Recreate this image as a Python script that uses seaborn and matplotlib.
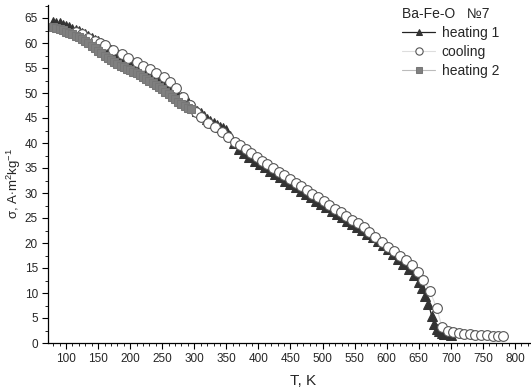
import matplotlib
matplotlib.use("Agg")
import matplotlib.pyplot as plt
from matplotlib.ticker import MultipleLocator
import seaborn as sns

# heating 1 (triangles)
T_heat1 = [80, 85, 90, 95, 100, 105, 110, 115, 120, 125, 130, 135, 140, 145, 150, 155, 160, 165, 170, 175,
           180, 185, 190, 195, 200, 205, 210, 215, 220, 225, 230, 235, 240, 245, 250, 255, 260, 265, 270, 275,
           280, 285, 290, 295, 300, 305, 310, 315, 320, 325, 330, 335, 340, 345, 350,
           355, 362, 370, 378, 386, 394, 402, 410, 418, 426, 434, 442, 450, 458, 466, 474, 482, 490, 498,
           506, 514, 522, 530, 538, 546, 554, 562, 570, 578, 586, 594, 602, 610, 618, 626, 634, 642, 650,
           655, 660, 665, 670, 674, 678, 682, 686, 690, 695, 700]
sig_heat1 = [64.2, 64.1, 64.0, 63.7, 63.4, 63.2, 62.9, 62.7, 62.4, 62.1, 61.8, 61.4, 61.0, 60.7, 60.4, 60.0,
             59.6, 59.1, 58.7, 58.2, 57.8, 57.4, 57.0, 56.6, 56.3, 55.9, 55.6, 55.2, 54.9, 54.5, 54.1, 53.7,
             53.3, 52.9, 52.5, 52.0, 51.6, 51.0, 50.5, 49.9, 49.3, 48.8, 48.2, 47.7, 47.1, 46.5, 46.0, 45.4,
             44.9, 44.4, 44.0, 43.6, 43.3, 43.0, 42.6,
             41.5, 40.0, 38.8, 38.0, 37.2, 36.5, 35.8, 35.2, 34.5, 33.9, 33.2, 32.5, 31.8, 31.2, 30.5, 29.8,
             29.2, 28.5, 27.8, 27.2, 26.5, 25.8, 25.2, 24.5, 23.9, 23.2, 22.6, 21.9, 21.2, 20.4, 19.6, 18.8,
             17.9, 16.9, 15.9, 14.8, 13.7, 12.3,
             11.0, 9.4, 7.9, 5.5, 3.9, 2.9, 2.4, 2.1, 1.9, 1.8, 1.7]

# cooling (open circles)
T_cool = [115, 125, 135, 145, 153, 161, 174, 187, 197, 210, 220, 231, 241, 252, 262, 272, 283, 293, 302,
          311, 322, 332, 343, 353, 363, 371, 380, 388, 397, 406, 414, 423, 432, 440, 449, 458, 467, 475,
          484, 493, 502, 510, 519, 528, 537, 546, 555, 564, 573, 582, 592, 602, 611, 621, 630, 639, 649,
          657, 667, 678, 686, 696, 704, 713, 721, 730, 738, 747, 756, 765, 774, 782]
sig_cool = [62.3, 61.8, 61.1, 60.5, 60.1, 59.7, 58.7, 57.9, 57.1, 56.3, 55.4, 54.8, 54.1, 53.2, 52.3, 51.0,
            49.3, 47.6, 46.3, 45.2, 44.0, 43.2, 42.3, 41.3, 40.3, 39.6, 38.8, 38.1, 37.3, 36.5, 35.8, 35.1,
            34.3, 33.6, 32.9, 32.1, 31.4, 30.7, 29.9, 29.2, 28.4, 27.7, 26.9, 26.2, 25.4, 24.7, 24.0, 23.3,
            22.3, 21.2, 20.3, 19.3, 18.5, 17.5, 16.7, 15.7, 14.3, 12.7, 10.5, 7.0, 3.3, 2.4, 2.2, 2.0, 1.9,
            1.8, 1.7, 1.6, 1.6, 1.5, 1.5, 1.5]

# heating 2 (gray squares)
T_heat2 = [80, 85, 90, 95, 100, 105, 110, 115, 120, 125, 130, 135, 140, 145, 150, 155, 160, 165, 170, 175,
           180, 185, 190, 195, 200, 205, 210, 215, 220, 225, 230, 235, 240, 245, 250, 255, 260, 265, 270,
           275, 280, 285, 290, 295]
sig_heat2 = [63.2, 63.0, 62.8, 62.6, 62.3, 62.0, 61.8, 61.5, 61.2, 60.9, 60.5, 60.0, 59.5, 59.0, 58.5, 58.0,
             57.5, 57.0, 56.6, 56.2, 55.8, 55.5, 55.2, 54.9, 54.6, 54.3, 54.0, 53.6, 53.2, 52.8, 52.4, 52.0,
             51.6, 51.2, 50.8, 50.3, 49.8, 49.3, 48.8, 48.3, 47.8, 47.4, 47.0, 46.8]

sns.set_style("ticks")
plt.rcParams['font.family'] = ['Liberation Sans', 'DejaVu Sans']
plt.rcParams['mathtext.fontset'] = 'custom'
plt.rcParams['mathtext.rm'] = 'Liberation Sans'

W, H = 531, 390
fig = plt.figure(figsize=(W / 100, H / 100), dpi=100)
# left spine at x=48 px, bottom spine at y=343 px, runs to the right edge
ax = fig.add_axes([48 / W, (H - 343) / H, (W - 48) / W, 338 / H])

sns.lineplot(x=T_heat1, y=sig_heat1, ax=ax, color='#222222', linewidth=0.9, marker='^', markersize=6.5,
             markerfacecolor='#333333', markeredgecolor='#333333', label='heating 1')
sns.lineplot(x=T_cool, y=sig_cool, ax=ax, color='#dddddd', linewidth=0.8, marker='o', markersize=7,
             markerfacecolor='white', markeredgecolor='#555555', markeredgewidth=0.8, label='cooling')
sns.lineplot(x=T_heat2, y=sig_heat2, ax=ax, color='#bbbbbb', linewidth=0.8, marker='s', markersize=5.5,
             markerfacecolor='#808080', markeredgecolor='#777777', label='heating 2')

ax.set_xlim(71.9, 825)
ax.set_ylim(0, 67.6)
ax.xaxis.set_major_locator(MultipleLocator(50))
ax.xaxis.set_minor_locator(MultipleLocator(10))
ax.yaxis.set_major_locator(MultipleLocator(5))
ax.yaxis.set_minor_locator(MultipleLocator(2.5))
ax.tick_params(which='major', direction='out', length=4.3, width=0.8, labelsize=8.5, pad=3, color='black')
ax.tick_params(which='minor', direction='out', length=2.2, width=0.6, color='black')
for side in ['top', 'right']:
    ax.spines[side].set_visible(False)
for side in ['left', 'bottom']:
    ax.spines[side].set_linewidth(0.9)
    ax.spines[side].set_color('black')

# axis labels, placed where the original has them
ax.set_xlabel('T, K', fontsize=11)
ax.xaxis.label.set_va('top')
ax.xaxis.set_label_coords((303 - 48) / (W - 48), -(374 - 343) / 338)
ax.set_ylabel(r'σ, A$\cdot$m$^{2}$kg$^{-1}$', fontsize=9.5)
ax.yaxis.label.set_va('center')
ax.yaxis.set_label_coords(-(48 - 14) / (W - 48), (343 - 183) / 338)

leg = ax.legend(title='Ba-Fe-O   №7', loc='upper left', bbox_to_anchor=(402 / W, 1 - 7 / H),
                bbox_transform=fig.transFigure, frameon=False, fontsize=10, title_fontsize=10,
                handlelength=2.4, handletextpad=0.45, labelspacing=0.35, borderpad=0, borderaxespad=0,
                markerscale=0.75)
leg._legend_box.align = 'left'

fig.savefig('out.png', dpi=100)
